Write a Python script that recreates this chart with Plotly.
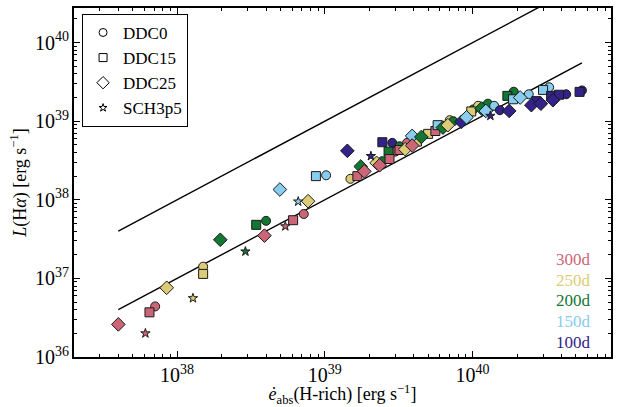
import plotly.graph_objects as go

# Epoch colours (days after explosion)
epoch_labels = ["300d", "250d", "200d", "150d", "100d"]
epoch_colors = {300: "#CC6677", 250: "#DDCC77", 200: "#117733", 150: "#88CCEE", 100: "#332288"}

# DDC0 model
ddc0_x = [7.1e37, 1.5e38, 4.0e38, 7.2e38, 1.02e39, 1.49e39, 2.45e39, 2.86e39, 3.0e39, 3.2e39,
          3.6e39, 7.0e39, 7.4e39, 1.01e40, 1.09e40, 1.27e40, 1.4e40, 1.53e40, 1.9e40, 2.4e40,
          3.3e40, 4.3e40, 5.5e40]
ddc0_y = [4.4e36, 1.41e37, 5.4e37, 6.6e37, 2.05e38, 1.85e38, 3.1e38, 5.3e38, 4.1e38, 4.8e38,
          5.3e38, 1.03e39, 1.0e39, 1.41e39, 1.57e39, 1.67e39, 1.57e39, 1.38e39, 2.37e39, 2.2e39,
          2.7e39, 2.2e39, 2.46e39]
ddc0_t = [300, 250, 200, 300, 150, 250, 200, 100, 300, 200,
          300, 250, 200, 200, 250, 200, 150, 100, 200, 150,
          150, 100, 100]

# DDC15 model
ddc15_x = [6.5e37, 1.5e38, 3.43e38, 6.1e38, 8.7e38, 1.66e39, 2.45e39, 2.7e39, 2.74e39, 3.2e39,
           4.2e39, 5.0e39, 5.6e39, 5.8e39, 9.8e39, 1.72e40, 1.88e40, 2.7e40, 3.0e40, 3.4e40,
           3.85e40, 5.3e40]
ddc15_y = [3.7e36, 1.14e37, 4.8e37, 5.5e37, 2.0e38, 2.0e38, 5.4e38, 4.1e38, 3.3e38, 4.3e38,
           5.5e38, 6.9e38, 7.5e38, 8.9e38, 1.33e39, 2.1e39, 1.9e39, 1.8e39, 2.5e39, 2.1e39,
           2.17e39, 2.36e39]
ddc15_t = [300, 250, 200, 300, 150, 300, 100, 200, 300, 300,
           250, 250, 300, 150, 250, 200, 150, 100, 150, 100,
           100, 100]

# DDC25 model
ddc25_x = [4.0e37, 8.5e37, 1.96e38, 3.9e38, 4.96e38, 7.7e38, 1.42e39, 1.75e39, 1.85e39, 2.24e39,
           2.35e39, 3.5e39, 3.9e39, 3.9e39, 4.5e39, 6.3e39, 6.8e39, 8.4e39, 9.1e39, 1.15e40,
           1.23e40, 1.77e40, 2.1e40, 2.5e40, 2.9e40, 3.5e40]
ddc25_y = [2.6e36, 7.6e36, 3.1e37, 3.5e37, 1.35e38, 9.6e37, 4.2e38, 2.65e38, 2.3e38, 2.95e38,
           2.75e38, 4.4e38, 6.5e38, 4.9e38, 6.3e38, 8.3e38, 8.9e38, 9.8e38, 1.12e39, 1.45e39,
           1.35e39, 1.35e39, 2.0e39, 1.6e39, 1.67e39, 1.85e39]
ddc25_t = [300, 250, 200, 300, 150, 250, 100, 200, 300, 250,
           300, 250, 150, 300, 200, 200, 250, 100, 150, 200,
           150, 100, 150, 100, 100, 100]

# SCH3p5 model
sch_x = [6.1e37, 1.28e38, 2.9e38, 5.4e38, 6.6e38, 2.05e39, 1.32e40]
sch_y = [2.0e36, 5.6e36, 2.2e37, 4.6e37, 9.5e37, 3.6e38, 1.17e39]
sch_t = [300, 250, 200, 300, 150, 100, 100]

# Reference relations L = f * e_abs
line_x = [4e37, 5.5e40]
line_factors = [1.0, 0.1]

# name, symbol, marker size, legend marker size, data
models = [
    ("DDC0", "circle", 9, 8, ddc0_x, ddc0_y, ddc0_t),
    ("DDC15", "square", 9, 8, ddc15_x, ddc15_y, ddc15_t),
    ("DDC25", "diamond", 10.5, 9.5, ddc25_x, ddc25_y, ddc25_t),
    ("SCH3p5", "star", 7, 6, sch_x, sch_y, sch_t),
]

FONT = "Liberation Serif"
fig = go.Figure()

for f in line_factors:
    fig.add_trace(go.Scatter(x=line_x, y=[f * v for v in line_x], mode="lines",
                             line=dict(color="black", width=1.4), showlegend=False,
                             hoverinfo="skip"))

for name, sym, size, lsize, xs, ys, ts in models:
    fig.add_trace(go.Scatter(
        x=xs, y=ys, mode="markers", showlegend=False, name=name,
        marker=dict(symbol=sym, size=size, color=[epoch_colors[t] for t in ts],
                    line=dict(color="#1a1a1a", width=1))))

for name, sym, size, lsize, xs, ys, ts in models:
    fig.add_trace(go.Scatter(
        x=[None], y=[None], mode="markers", name=name, showlegend=True,
        marker=dict(symbol=sym, size=lsize, color="white",
                    line=dict(color="black", width=1))))

for i, lab in enumerate(epoch_labels):
    t = int(lab[:-1])
    fig.add_annotation(x=0.966, y=0.280 - i * 0.0595, xref="paper", yref="paper",
                       text=lab, showarrow=False, xanchor="right", yanchor="middle",
                       font=dict(family=FONT, size=17, color=epoch_colors[t]))

axis_common = dict(type="log", showgrid=False, zeroline=False, showline=True,
                   linecolor="black", linewidth=1.5, mirror="allticks",
                   ticks="inside", ticklen=6, tickwidth=1, tickcolor="black",
                   dtick=1, exponentformat="power",
                   tickfont=dict(family=FONT, size=16, color="black"),
                   minor=dict(ticks="inside", ticklen=3, tickcolor="black", showgrid=False))

fig.update_xaxes(range=[37.302, 40.937],
                 title=dict(text="<i>ė</i><sub>abs</sub>(H-rich) [erg s<sup>−1</sup>]",
                            font=dict(family=FONT, size=18, color="black"), standoff=2),
                 **axis_common)
fig.update_yaxes(range=[36.0, 40.44],
                 title=dict(text="<i>L</i>(H<i>α</i>) [erg s<sup>−1</sup>]",
                            font=dict(family=FONT, size=18, color="black"), standoff=4),
                 **axis_common)

fig.update_layout(
    width=625, height=407,
    margin=dict(l=74, r=14, t=6, b=48),
    plot_bgcolor="white", paper_bgcolor="white",
    font=dict(family=FONT, color="black"),
    legend=dict(x=0.015, y=0.983, xanchor="left", yanchor="top",
                bordercolor="black", borderwidth=1, bgcolor="white",
                font=dict(family=FONT, size=17, color="black"),
                itemwidth=30),
)

fig.write_html("out.html")
